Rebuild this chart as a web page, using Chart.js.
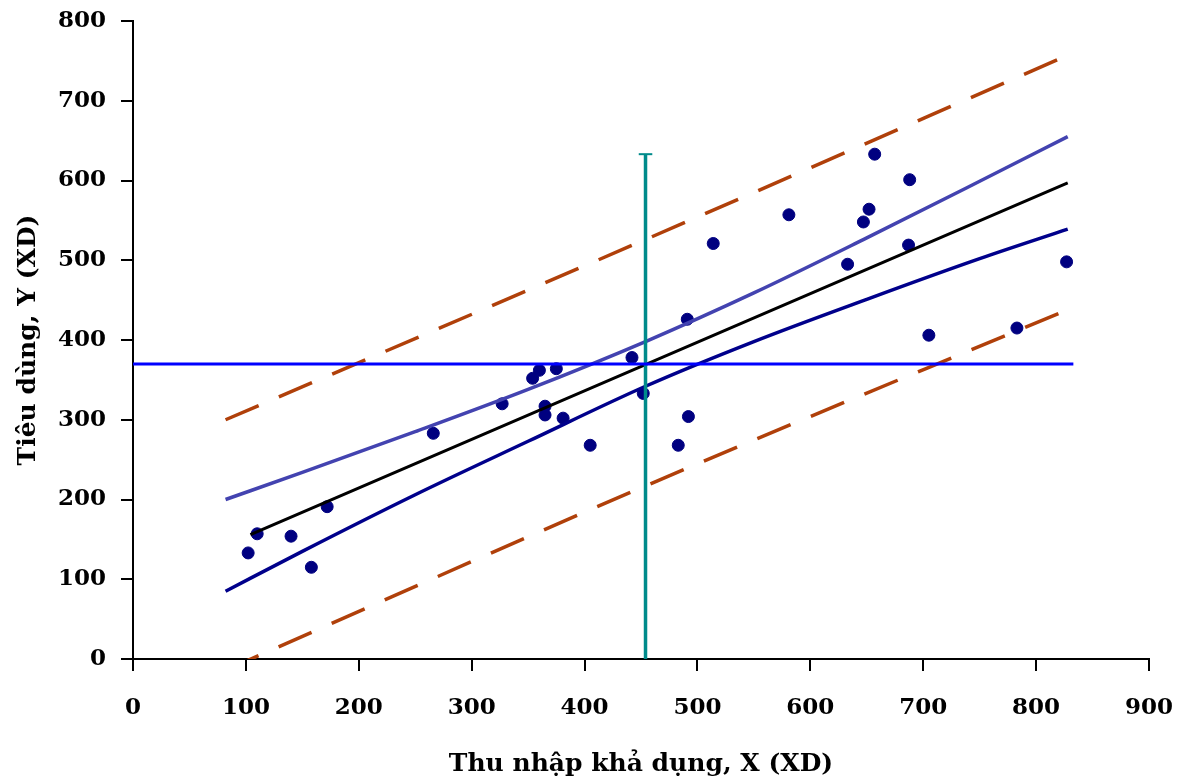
<!DOCTYPE html>
<html>
<head>
<meta charset="utf-8">
<script src="https://cdn.jsdelivr.net/npm/chart.js@4"></script>
<style>
  html, body { margin: 0; padding: 0; background: #fff; }
  #wrap { width: 1185px; height: 783px; position: relative; }
</style>
</head>
<body>
<div id="wrap"><canvas id="regChart"></canvas></div>
<script>
// observed points: disposable income X vs consumption Y
const incomeX = [102, 110, 140, 158, 172, 266, 327, 354, 360, 375, 365, 365, 381, 405, 442,
  452, 483, 492, 491, 514, 581, 633, 647, 652, 657, 688, 687, 705, 783, 827];
const consumptionY = [133, 157, 154, 115, 191, 283, 320, 352, 362, 364, 317, 306, 302, 268, 378,
  333, 268, 304, 426, 521, 557, 495, 548, 564, 633, 601, 519, 406, 415, 498];

// fitted regression line
const fitX = [104, 828];
const fitY = [156, 597];

// confidence band for the mean
const bandX = [82, 150, 250, 350, 454, 550, 650, 750, 828];
const confUpper = [200, 234, 285, 338, 398, 459, 528, 599, 655];
const confLower = [85, 135, 206, 273, 342, 398, 451, 502, 539];

// prediction band (dashed)
const predX = [82, 454, 828];
const predUpper = [300, 526, 757];
const predLower = [-14, 217, 438];

// means
const meanX = 454;
const meanY = 370;
const meanLineX = [0, 833];
const meanBarY = [0, 633];
const capX = [448, 460];

const xTicks = [0, 100, 200, 300, 400, 500, 600, 700, 800, 900];
const yTicks = [0, 100, 200, 300, 400, 500, 600, 700, 800];

const pts = (xs, ys) => xs.map((x, i) => ({x: x, y: ys[i]}));

function lineSet(data, color, width, dash) {
  return {
    data: data,
    showLine: true,
    borderColor: color,
    backgroundColor: color,
    borderWidth: width,
    borderDash: dash || [],
    pointRadius: 0,
    cubicInterpolationMode: 'monotone',
    fill: false
  };
}

const tickFont = {family: 'DejaVu Serif', weight: 'bold', size: 23};
const titleFont = {family: 'DejaVu Serif', weight: 'bold', size: 25};

const config = {
  type: 'scatter',
  data: {
    datasets: [
      lineSet(pts(meanLineX, [meanY, meanY]), '#0000ff', 3),
      lineSet(pts([meanX, meanX], meanBarY), '#008b8b', 3.5),
      lineSet(pts(capX, [meanBarY[1], meanBarY[1]]), '#008b8b', 2),
      lineSet(pts(predX, predUpper), '#b0400a', 3.5, [36, 22]),
      lineSet(pts(predX, predLower), '#b0400a', 3.5, [36, 22]),
      lineSet(pts(bandX, confUpper), '#4343b0', 3.5),
      lineSet(pts(bandX, confLower), '#00008b', 3.5),
      lineSet(pts(fitX, fitY), '#000000', 3),
      {
        data: pts(incomeX, consumptionY),
        backgroundColor: '#000080',
        borderColor: '#000080',
        pointRadius: 6,
        showLine: false
      }
    ]
  },
  options: {
    responsive: true,
    maintainAspectRatio: false,
    animation: false,
    layout: {padding: {top: 21, right: 36, left: 0, bottom: 0}},
    plugins: {
      legend: {display: false},
      tooltip: {enabled: false}
    },
    scales: {
      x: {
        type: 'linear',
        min: 0,
        max: 900,
        afterBuildTicks: (s) => { s.ticks = xTicks.map(v => ({value: v})); },
        afterFit: (s) => { s.height = 124; s.paddingLeft = 0; s.paddingRight = 0; },
        border: {color: '#000', width: 2},
        grid: {drawOnChartArea: false, tickLength: 12, color: '#000', lineWidth: 2},
        ticks: {font: tickFont, color: '#000', padding: 23, maxRotation: 0},
        title: {
          display: true,
          text: 'Thu nhập khả dụng, X (XD)',
          font: titleFont,
          color: '#000',
          padding: {top: 0, bottom: 4}
        }
      },
      y: {
        type: 'linear',
        min: 0,
        max: 800,
        afterBuildTicks: (s) => { s.ticks = yTicks.map(v => ({value: v})); },
        afterFit: (s) => { s.width = 133; s.paddingTop = 0; s.paddingBottom = 0; },
        border: {color: '#000', width: 2},
        grid: {drawOnChartArea: false, tickLength: 12, color: '#000', lineWidth: 2},
        ticks: {font: tickFont, color: '#000', padding: 15},
        title: {
          display: true,
          text: 'Tiêu dùng, Y (XD)',
          font: titleFont,
          color: '#000',
          padding: {top: 13, bottom: 0}
        }
      }
    }
  }
};

const regChart = new Chart(document.getElementById('regChart'), config);
</script>
</body>
</html>
